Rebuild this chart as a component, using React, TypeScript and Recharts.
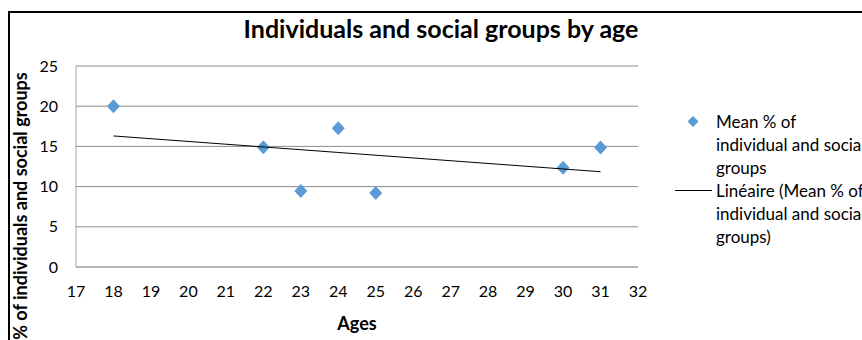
import React from 'react';
import { ScatterChart, Scatter, XAxis, YAxis, CartesianGrid, Legend } from 'recharts';

const ages = [18, 22, 23, 24, 25, 30, 31];
const meanPercent = [20, 14.9, 9.45, 17.25, 9.2, 12.35, 14.85];
const trendAges = [18, 31];
const trendValues = [16.3, 11.85];
const xTicks = [17, 18, 19, 20, 21, 22, 23, 24, 25, 26, 27, 28, 29, 30, 31, 32];
const yTicks = [0, 5, 10, 15, 20, 25];
const titleText = 'Individuals and social groups by age';
const xLabel = 'Ages';
const yLabel = '% of individuals and social groups';
const seriesLines = ['Mean % of', 'individual and social', 'groups'];
const trendLines = ['Linéaire (Mean % of', 'individual and social', 'groups)'];

const points = ages.map((a, i) => ({ x: a, y: meanPercent[i] }));
const trend = trendAges.map((a, i) => ({ x: a, y: trendValues[i] }));

const FONT = 'Lato, "Open Sans", sans-serif';
const BLUE = '#5B9BD5';

const Diamond = (props: any) => {
  const { cx, cy } = props;
  if (cx == null || cy == null) return <g />;
  return (
    <path
      d={`M${cx},${cy - 7} L${cx + 6.5},${cy} L${cx},${cy + 7} L${cx - 6.5},${cy} Z`}
      fill={BLUE}
    />
  );
};

const NoShape = () => <g />;

const LegendContent = () => (
  <div style={{ fontFamily: FONT, fontSize: 17, lineHeight: '23px', color: '#000', whiteSpace: 'nowrap' }}>
    <div style={{ display: 'flex' }}>
      <div style={{ width: 41, height: 23, position: 'relative' }}>
        <svg width={41} height={23} style={{ position: 'absolute', left: 0, top: 0 }}>
          <path d="M18,6 L23.5,11.5 L18,17 L12.5,11.5 Z" fill={BLUE} />
        </svg>
      </div>
      <div>
        {seriesLines.map((l, i) => (
          <div key={i}>{l}</div>
        ))}
      </div>
    </div>
    <div style={{ display: 'flex' }}>
      <div style={{ width: 41, height: 23, position: 'relative' }}>
        <svg width={41} height={23} style={{ position: 'absolute', left: 0, top: 0 }}>
          <line x1={0} y1={11.5} x2={37} y2={11.5} stroke="#000" strokeWidth={1} />
        </svg>
      </div>
      <div>
        {trendLines.map((l, i) => (
          <div key={i}>{l}</div>
        ))}
      </div>
    </div>
  </div>
);

export default function App() {
  return (
    <div
      style={{
        position: 'absolute',
        left: 8,
        top: 8,
        width: 854,
        height: 332,
        overflow: 'hidden',
        background: '#fff',
      }}
    >
      <div
        style={{
          position: 'absolute',
          left: 0,
          top: 3,
          right: 0,
          bottom: 0,
          borderLeft: '2px solid #000',
          borderTop: '2px solid #000',
        }}
      />
      <ScatterChart width={854} height={332} margin={{ top: 58, right: 224, bottom: 3, left: 28 }}>
        <CartesianGrid horizontal vertical={false} stroke="#8c8c8c" />
        <XAxis
          type="number"
          dataKey="x"
          domain={[17, 32]}
          ticks={xTicks}
          interval={0}
          height={70}
          tickLine={false}
          tickSize={0}
          tickMargin={19}
          axisLine={{ stroke: '#a6a6a6' }}
          tick={{ fill: '#000', fontSize: 16, fontFamily: FONT }}
          label={{
            value: xLabel,
            position: 'insideBottom',
            offset: 7,
            style: { fill: '#000', fontSize: 18, fontWeight: 700, fontFamily: FONT },
          }}
        />
        <YAxis
          type="number"
          dataKey="y"
          domain={[0, 25]}
          ticks={yTicks}
          interval={0}
          width={40}
          tickLine={false}
          tickSize={0}
          tickMargin={18}
          axisLine={{ stroke: '#a6a6a6' }}
          tick={{ fill: '#000', fontSize: 16, fontFamily: FONT }}
        />
        <Legend
          layout="vertical"
          align="center"
          verticalAlign="middle"
          content={LegendContent}
          wrapperStyle={{ position: 'absolute', left: 667, top: 102, width: 220 }}
        />
        <Scatter data={points} shape={Diamond} isAnimationActive={false} />
        <Scatter
          data={trend}
          shape={NoShape}
          line={{ stroke: '#000', strokeWidth: 1 }}
          isAnimationActive={false}
        />
      </ScatterChart>
      <div
        style={{
          position: 'absolute',
          left: 133,
          top: 5,
          width: 600,
          textAlign: 'center',
          fontFamily: FONT,
          fontWeight: 700,
          fontSize: 25,
          lineHeight: '30px',
          color: '#000',
        }}
      >
        {titleText}
      </div>
      <div
        style={{
          position: 'absolute',
          left: 12,
          top: 198,
          transform: 'translate(-50%, -50%) rotate(-90deg)',
          whiteSpace: 'nowrap',
          fontFamily: FONT,
          fontWeight: 700,
          fontSize: 18,
          lineHeight: '20px',
          color: '#000',
        }}
      >
        {yLabel}
      </div>
    </div>
  );
}
